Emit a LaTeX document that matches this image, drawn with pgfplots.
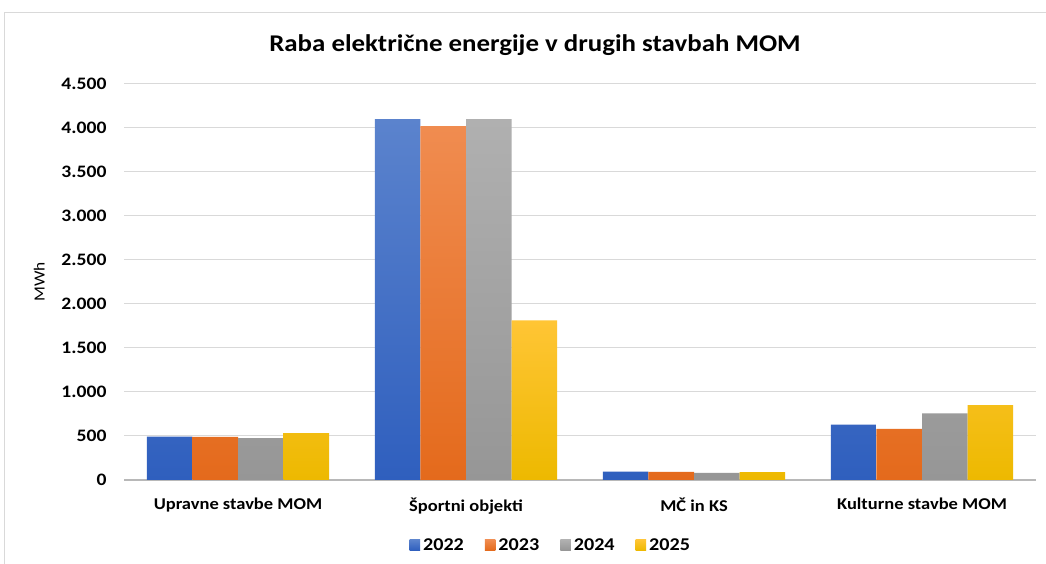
\documentclass[border=0pt]{standalone}
\usepackage{fontspec}
\setmainfont{Carlito}[FakeStretch=1.12]
\usepackage{pgfplots}
\pgfplotsset{compat=1.18}
\definecolor{cB1}{HTML}{5B83CD}\definecolor{cB2}{HTML}{2F5FBE}
\definecolor{cO1}{HTML}{F08C50}\definecolor{cO2}{HTML}{E46A1C}
\definecolor{cG1}{HTML}{B0B0B0}\definecolor{cG2}{HTML}{969696}
\definecolor{cY1}{HTML}{FFC535}\definecolor{cY2}{HTML}{EDB900}
\definecolor{gridc}{HTML}{D9D9D9}
\begin{document}
\begin{tikzpicture}[x=1pt,y=1pt]
\useasboundingbox (0,0) rectangle (1046,564);
\fill[white] (0,0) rectangle (1046,564);
\draw[gridc,line width=1.2pt] (4.5,-20) -- (4.5,551.5) -- (1080,551.5);
\node[font=\bfseries\fontsize{24}{28}\selectfont] at (535,519) {Raba električne energije v drugih stavbah MOM};
\begin{axis}[
  at={(124pt,84pt)}, anchor=south west,
  scale only axis, width=912pt, height=396pt,
  xmin=-0.5, xmax=3.5, ymin=0, ymax=4500,
  ytick={0,500,...,4500},
  xtick={0,1,2,3},
  xticklabels={Upravne stavbe MOM, Športni objekti, MČ in KS, Kulturne stavbe MOM},
  axis line style={draw=none},
  major tick length=0pt,
  ymajorgrids, xmajorgrids=false, grid style={gridc, line width=1pt},
  extra y ticks={0}, extra y tick labels={},
  extra y tick style={grid style={color=gridc!85!black, line width=1.2pt}},
  ybar=0pt, bar width=0.2,
  /pgf/number format/assume math mode=true,
  /pgf/number format/1000 sep={.},
  yticklabel style={font=\bfseries\fontsize{17.5}{20}\selectfont, xshift=-14pt},
  xticklabel style={font=\bfseries\fontsize{16.5}{19}\selectfont, yshift=-14pt},
  ylabel={MWh},
  every axis y label/.style={at={(axis description cs:-0.093,0.5)}, rotate=90, anchor=center, font=\fontsize{15.5}{18}\selectfont},
  legend columns=4,
  legend style={at={(0.468,-0.165)}, anchor=center, draw=none, fill=none,
    font=\bfseries\fontsize{18}{21}\selectfont,
    /tikz/every odd column/.append style={column sep=1pt},
    /tikz/every even column/.append style={column sep=19pt}},
  legend image code/.code={\path[#1] (0pt,-5pt) rectangle (10.5pt,5.5pt);},
]
\addplot[draw=none, top color=cB1, bottom color=cB2] coordinates {(0,492) (1,4100) (2,95) (3,630)};
\addplot[draw=none, top color=cO1, bottom color=cO2] coordinates {(0,490) (1,4020) (2,92) (3,580)};
\addplot[draw=none, top color=cG1, bottom color=cG2] coordinates {(0,475) (1,4100) (2,80) (3,758)};
\addplot[draw=none, top color=cY1, bottom color=cY2] coordinates {(0,532) (1,1815) (2,90) (3,852)};
\legend{2022,2023,2024,2025}
\end{axis}
\end{tikzpicture}
\end{document}
